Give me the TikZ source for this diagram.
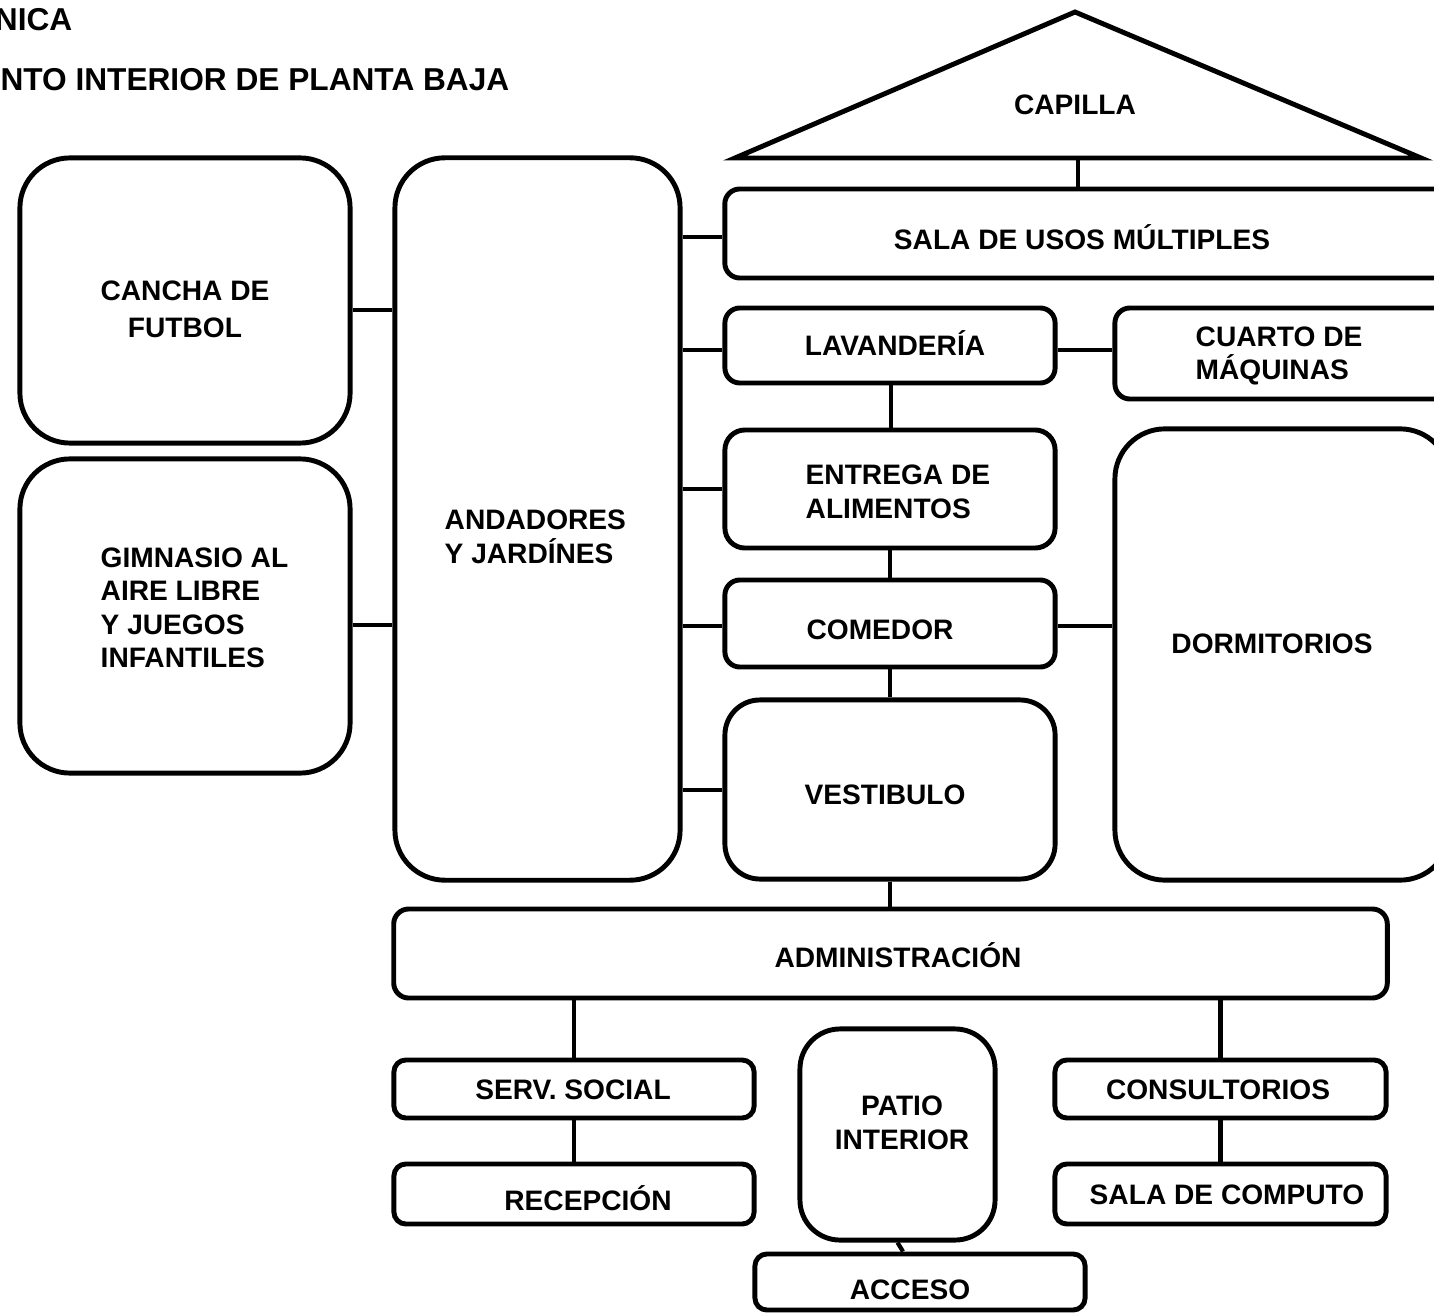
\documentclass[tikz,border=0pt]{standalone}
\usepackage{fontspec}
\setmainfont{Liberation Sans}
\usetikzlibrary{calc}
\begin{document}
\begin{tikzpicture}[x=0.01cm,y=-0.01cm,
  room/.style={draw, line width=1.4pt, rounded corners=#1, inner sep=0pt},
  lbl/.style={font=\bfseries\fontsize{8}{9.5}\selectfont, inner sep=0pt},
  ttl/.style={font=\bfseries\fontsize{9}{11}\selectfont, inner sep=0pt, anchor=east},
  link/.style={line width=1.2pt},
  line join=miter]
\useasboundingbox (0,0) rectangle (1434,1313);

% titles (cut at left edge)
\node[ttl] (t1) at (73,20) {NICA};
\node[ttl] (t2) at (510,80) {NTO INTERIOR DE PLANTA BAJA};

% capilla triangle
\coordinate (capA) at (1075,12);
\coordinate (capL) at (735,158);
\coordinate (capR) at (1421,158);
\coordinate (capB) at (1078,158);
\draw[line width=1.4pt] (capL) -- (capA) -- (capR) -- cycle;
\node[lbl] (capilla) at (1075,105) {CAPILLA};

% boxes
\node[room=0.5cm, minimum width=3.30cm, minimum height=2.85cm] (cancha) at (185,300.5) {};
\node[room=0.5cm, minimum width=3.30cm, minimum height=3.14cm] (gimnasio) at (185,616) {};
\node[room=0.5cm, minimum width=2.85cm, minimum height=7.22cm] (andadores) at (537.5,519) {};
\node[room=0.15cm, minimum width=7.25cm, minimum height=0.89cm] (sala) at (1087.5,233.5) {};
\node[room=0.15cm, minimum width=3.30cm, minimum height=0.75cm] (lav) at (890,345.5) {};
\node[room=0.15cm, minimum width=3.35cm, minimum height=0.91cm] (cuarto) at (1282.5,353.5) {};
\node[room=0.2cm, minimum width=3.30cm, minimum height=1.18cm] (entrega) at (890,489) {};
\node[room=0.15cm, minimum width=3.30cm, minimum height=0.87cm] (comedor) at (890,623.5) {};
\node[room=0.35cm, minimum width=3.30cm, minimum height=1.79cm] (vest) at (890,789.5) {};
\node[room=0.5cm, minimum width=3.35cm, minimum height=4.51cm] (dorm) at (1282.5,654.5) {};
\node[room=0.15cm, minimum width=9.93cm, minimum height=0.89cm] (admin) at (890.5,953.5) {};
\node[room=0.12cm, minimum width=3.60cm, minimum height=0.58cm] (serv) at (574,1089) {};
\node[room=0.12cm, minimum width=3.60cm, minimum height=0.60cm] (recep) at (574,1194) {};
\node[room=0.4cm, minimum width=1.95cm, minimum height=2.11cm] (patio) at (897.5,1134.5) {};
\node[room=0.12cm, minimum width=3.30cm, minimum height=0.56cm] (acceso) at (920,1282) {};
\node[room=0.12cm, minimum width=3.31cm, minimum height=0.58cm] (consult) at (1220.5,1089) {};
\node[room=0.12cm, minimum width=3.31cm, minimum height=0.60cm] (computo) at (1220.5,1194) {};

% labels
\node[lbl, align=center] (lcancha) at (185,309) {CANCHA DE\\[1pt]FUTBOL};
\node[lbl, align=left, anchor=west] (lgim) at (100,608) {GIMNASIO AL\\AIRE LIBRE\\Y JUEGOS\\INFANTILES};
\node[lbl, align=left, anchor=west] (land) at (444,537) {ANDADORES\\Y JARDÍNES};
\node[lbl] (lsala) at (1082,237) {SALA DE USOS MÚLTIPLES};
\node[lbl] (llav) at (895,343) {LAVANDERÍA};
\node[lbl, align=left, anchor=west] (lcuarto) at (1195,356) {CUARTO DE\\MÁQUINAS};
\node[lbl, align=left, anchor=west] (lentrega) at (805,492) {ENTREGA DE\\ALIMENTOS};
\node[lbl] (lcomedor) at (880,630) {COMEDOR};
\node[lbl] (lvest) at (885,795) {VESTIBULO};
\node[lbl] (ldorm) at (1272,644) {DORMITORIOS};
\node[lbl] (ladmin) at (898,955) {ADMINISTRACIÓN};
\node[lbl] (lserv) at (573,1090) {SERV. SOCIAL};
\node[lbl] (lrecep) at (588,1198) {RECEPCIÓN};
\node[lbl, align=center] (lpatio) at (902,1123) {PATIO\\INTERIOR};
\node[lbl] (lacceso) at (910,1290) {ACCESO};
\node[lbl] (lconsult) at (1218,1090) {CONSULTORIOS};
\node[lbl] (lcomputo) at (1227,1195) {SALA DE COMPUTO};

% connectors
\draw[link] (capB) -- (capB |- sala.north);
\draw[link] (cancha.east |- 0,310) -- (andadores.west |- 0,310);
\draw[link] (gimnasio.east |- 0,625) -- (andadores.west |- 0,625);
\draw[link] (andadores.east |- 0,237) -- (sala.west |- 0,237);
\draw[link] (andadores.east |- 0,350) -- (lav.west |- 0,350);
\draw[link] (andadores.east |- 0,489) -- (entrega.west |- 0,489);
\draw[link] (andadores.east |- 0,626) -- (comedor.west |- 0,626);
\draw[link] (andadores.east |- 0,790) -- (vest.west |- 0,790);
\draw[link] (lav.east |- 0,350) -- (cuarto.west |- 0,350);
\draw[link] (comedor.east |- 0,626) -- (dorm.west |- 0,626);
\draw[link] (lav.south -| 891,0) -- (entrega.north -| 891,0);
\draw[link] (entrega.south) -- (comedor.north);
\draw[link] (comedor.south) -- (vest.north);
\draw[link] (vest.south) -- (admin.north -| vest.south);
\draw[link] (admin.south -| serv.north) -- (serv.north);
\draw[link] (serv.south) -- (recep.north);
\draw[link] (admin.south -| consult.north) -- (consult.north);
\draw[link] (consult.south) -- (computo.north);
\draw[link] (patio.south) -- ($(acceso.north)+(-17,0)$);
\end{tikzpicture}
\end{document}
